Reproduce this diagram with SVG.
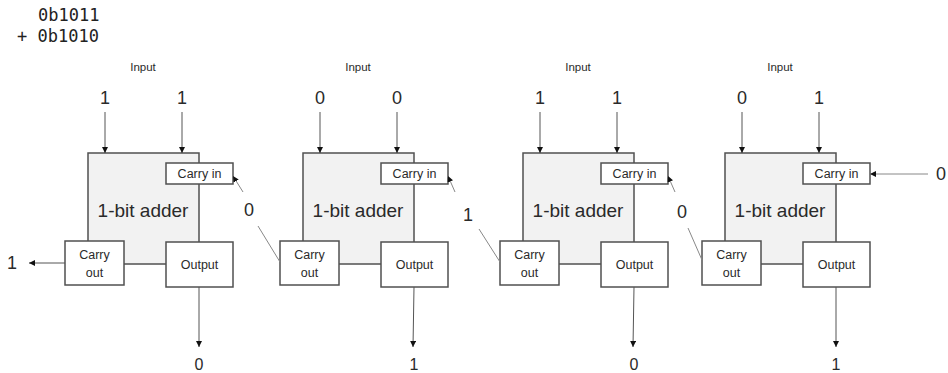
<svg xmlns="http://www.w3.org/2000/svg" width="948" height="373" viewBox="0 0 948 373">
<defs>
<marker id="ah" viewBox="0 0 6 6" refX="6" refY="3" markerWidth="6" markerHeight="6" markerUnits="userSpaceOnUse" orient="auto">
<path d="M0,0 L6,3 L0,6 z" fill="#111"/>
</marker>
</defs>
<style>
.big{fill:#f2f2f2;stroke:#505050;stroke-width:1.5}
.box{fill:#fff;stroke:#505050;stroke-width:1.5}
.t{font-family:"Liberation Sans",Arial,sans-serif;fill:#2a2a2a;text-anchor:middle}
.lbl{font-size:18px}
.ad{font-size:19px}
.sm{font-size:12.5px}
.in{font-size:11.5px}
.bot{font-size:16px}
.mono{font-family:"DejaVu Sans Mono","Liberation Mono",monospace;font-size:17px;fill:#222}
.arr{stroke:#555;stroke-width:1;fill:none;marker-end:url(#ah)}
.cl{stroke:#888;stroke-width:1;fill:none}
.ca{stroke:#888;stroke-width:1;fill:none;marker-end:url(#ah)}
</style>
<rect width="948" height="373" fill="#fff"/>
<g id="sum">
<text class="mono" x="38" y="21">0b1011</text>
<text class="mono" x="17" y="42">+ 0b1010</text>
</g>

<g id="adder1" transform="translate(88,0)">
<text class="t in" x="55" y="71">Input</text>
<text class="t lbl" x="17" y="104">1</text>
<text class="t lbl" x="94" y="104">1</text>
<rect class="big" x="0" y="153" width="111" height="111"/>
<text class="t ad" x="55" y="217">1-bit adder</text>
<g id="carryin1"><rect class="box" x="78" y="163" width="67" height="21"/><text class="t sm" x="111.5" y="178">Carry in</text></g>
<g id="carryout1"><rect class="box" x="-23" y="241" width="59" height="44"/><text class="t sm" x="6.5" y="259">Carry</text><text class="t sm" x="6.5" y="277">out</text></g>
<g id="output1"><rect class="box" x="78" y="242" width="67" height="45"/><text class="t sm" x="111.5" y="269">Output</text></g>
<text class="t bot" x="111" y="370">0</text>
</g>

<g id="adder2" transform="translate(303,0)">
<text class="t in" x="55" y="71">Input</text>
<text class="t lbl" x="17" y="104">0</text>
<text class="t lbl" x="94" y="104">0</text>
<rect class="big" x="0" y="153" width="111" height="111"/>
<text class="t ad" x="55" y="217">1-bit adder</text>
<g id="carryin2"><rect class="box" x="78" y="163" width="67" height="21"/><text class="t sm" x="111.5" y="178">Carry in</text></g>
<g id="carryout2"><rect class="box" x="-23" y="241" width="59" height="44"/><text class="t sm" x="6.5" y="259">Carry</text><text class="t sm" x="6.5" y="277">out</text></g>
<g id="output2"><rect class="box" x="78" y="242" width="67" height="45"/><text class="t sm" x="111.5" y="269">Output</text></g>
<text class="t bot" x="111" y="370">1</text>
</g>

<g id="adder3" transform="translate(523,0)">
<text class="t in" x="55" y="71">Input</text>
<text class="t lbl" x="17" y="104">1</text>
<text class="t lbl" x="94" y="104">1</text>
<rect class="big" x="0" y="153" width="111" height="111"/>
<text class="t ad" x="55" y="217">1-bit adder</text>
<g id="carryin3"><rect class="box" x="78" y="163" width="67" height="21"/><text class="t sm" x="111.5" y="178">Carry in</text></g>
<g id="carryout3"><rect class="box" x="-23" y="241" width="59" height="44"/><text class="t sm" x="6.5" y="259">Carry</text><text class="t sm" x="6.5" y="277">out</text></g>
<g id="output3"><rect class="box" x="78" y="242" width="67" height="45"/><text class="t sm" x="111.5" y="269">Output</text></g>
<text class="t bot" x="111" y="370">0</text>
</g>

<g id="adder4" transform="translate(725,0)">
<text class="t in" x="55" y="71">Input</text>
<text class="t lbl" x="17" y="104">0</text>
<text class="t lbl" x="94" y="104">1</text>
<rect class="big" x="0" y="153" width="111" height="111"/>
<text class="t ad" x="55" y="217">1-bit adder</text>
<g id="carryin4"><rect class="box" x="78" y="163" width="67" height="21"/><text class="t sm" x="111.5" y="178">Carry in</text></g>
<g id="carryout4"><rect class="box" x="-23" y="241" width="59" height="44"/><text class="t sm" x="6.5" y="259">Carry</text><text class="t sm" x="6.5" y="277">out</text></g>
<g id="output4"><rect class="box" x="78" y="242" width="67" height="45"/><text class="t sm" x="111.5" y="269">Output</text></g>
<text class="t bot" x="111" y="370">1</text>
</g>

<g id="labels">
<text class="t lbl" x="12" y="269">1</text>
<text class="t lbl" x="249" y="216">0</text>
<text class="t lbl" x="468" y="221">1</text>
<text class="t lbl" x="682" y="218">0</text>
<text class="t lbl" x="936" y="180" style="text-anchor:start">0</text>
</g>

<g id="connectors">
<line class="arr" x1="105" y1="112" x2="105" y2="153"/>
<line class="arr" x1="182" y1="112" x2="182" y2="153"/>
<line class="arr" x1="320" y1="112" x2="320" y2="153"/>
<line class="arr" x1="397" y1="112" x2="397" y2="153"/>
<line class="arr" x1="540" y1="112" x2="540" y2="153"/>
<line class="arr" x1="617" y1="112" x2="617" y2="153"/>
<line class="arr" x1="742" y1="112" x2="742" y2="153"/>
<line class="arr" x1="819" y1="112" x2="819" y2="153"/>
<line class="arr" x1="199" y1="287" x2="199" y2="347"/>
<line class="arr" x1="414" y1="287" x2="413" y2="347"/>
<line class="arr" x1="634" y1="287" x2="633" y2="347"/>
<line class="arr" x1="836" y1="287" x2="836" y2="347"/>
<line class="arr" x1="65" y1="263" x2="29" y2="263"/>
<line class="ca" x1="928" y1="174" x2="870" y2="174"/>
<line class="cl" x1="280" y1="262" x2="258" y2="226"/>
<line class="ca" x1="243" y1="192" x2="233" y2="176"/>
<line class="cl" x1="500" y1="262" x2="479" y2="229"/>
<line class="ca" x1="455" y1="192" x2="448" y2="176"/>
<line class="cl" x1="702" y1="260" x2="688" y2="228"/>
<line class="ca" x1="675" y1="192" x2="668" y2="176"/>
</g>
</svg>
